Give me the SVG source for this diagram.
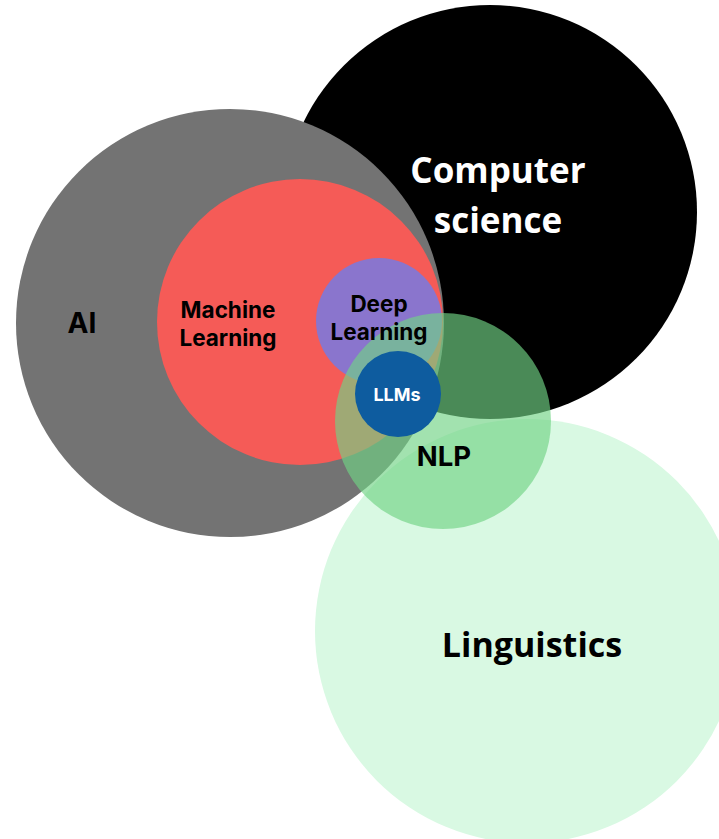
<svg xmlns="http://www.w3.org/2000/svg" width="719" height="839" viewBox="0 0 719 839">
  <style>
    .sans { font-family: "Inter", "Liberation Sans", sans-serif; font-weight: 700; text-anchor: middle; }
    .open { font-family: "Open Sans", "Liberation Sans", sans-serif; font-weight: 700; text-anchor: middle; }
    .dark { fill: #000000; }
    .light { fill: #ffffff; }
  </style>
  <rect width="719" height="839" fill="#ffffff"/>

  <!-- Field circles, back to front -->
  <g id="computer-science">
    <circle cx="490" cy="212" r="207" fill="#000000"/>
  </g>
  <g id="ai">
    <circle cx="230" cy="323" r="214" fill="#737373"/>
  </g>
  <g id="machine-learning">
    <circle cx="300" cy="322" r="143" fill="#f55b57"/>
  </g>
  <g id="deep-learning">
    <circle cx="379" cy="321" r="63" fill="#8a75cd"/>
  </g>
  <g id="linguistics">
    <circle cx="527" cy="631" r="212" fill="#d9f9e3"/>
  </g>
  <g id="nlp">
    <circle cx="443" cy="421" r="108" fill="#71d385" fill-opacity="0.654"/>
  </g>
  <g id="llms">
    <circle cx="398" cy="394" r="43" fill="#0e5c9f"/>
  </g>

  <!-- Labels sit above every circle -->
  <g id="labels">
    <text id="label-cs" class="open light" font-size="35" x="498" y="183">Computer</text>
    <text id="label-cs2" class="open light" font-size="35" x="498" y="233">science</text>
    <text id="label-ai" class="sans dark" font-size="28" x="82" y="333">AI</text>
    <text id="label-ml" class="sans dark" font-size="22.5" x="228" y="318">Machine</text>
    <text id="label-ml2" class="sans dark" font-size="22.5" x="228" y="346">Learning</text>
    <text id="label-dl" class="sans dark" font-size="22.5" x="379" y="312">Deep</text>
    <text id="label-dl2" class="sans dark" font-size="22.5" x="379" y="340">Learning</text>
    <text id="label-llms" class="sans light" font-size="18" x="397" y="401">LLMs</text>
    <text id="label-nlp" class="sans dark" font-size="27.5" x="444" y="466">NLP</text>
    <text id="label-ling" class="open dark" font-size="34" x="532" y="657">Linguistics</text>
  </g>
</svg>
